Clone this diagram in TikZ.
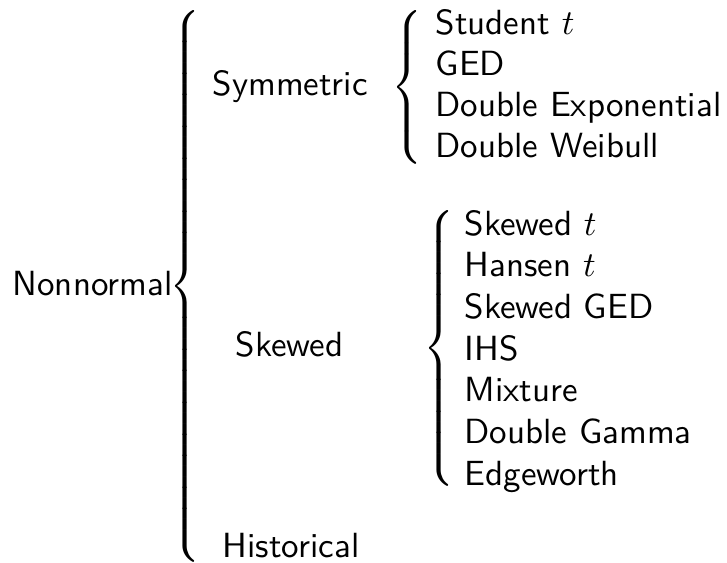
\documentclass[tikz,border=0pt]{standalone}
\usepackage{graphicx}
\begin{document}
\begin{tikzpicture}[x=0.286pt,y=-0.286pt,
  lbl/.style={anchor=base west,inner sep=0pt,font=\sffamily},
  brc/.style={inner sep=0pt,anchor=center}]
\useasboundingbox (0,0) rectangle (727,562);
\newcommand{\mybrace}[2]{\scalebox{1}[#2]{$\left\{\vcenter{\hbox{\vrule height #1 width 0pt}}\right.$}}
\node[lbl] (nn) at (12,295) {Nonnormal};
\node[brc] (b0) at (187,286) {\mybrace{158pt}{1.012}};
\node[lbl] (sym) at (212,95) {Symmetric};
\node[brc] (b1) at (409,87.5) {\mybrace{43pt}{1.043}};
\node[lbl] (s1) at (435,34) {Student $t$};
\node[lbl] (s2) at (435,75) {GED};
\node[lbl] (s3) at (435,116) {Double Exponential};
\node[lbl] (s4) at (435,157) {Double Weibull};
\node[lbl] (skw) at (235,356) {Skewed};
\node[brc] (b2) at (441,348) {\mybrace{80pt}{1.012}};
\node[lbl] (k1) at (464,235) {Skewed $t$};
\node[lbl] (k2) at (464,276.7) {Hansen $t$};
\node[lbl] (k3) at (464,318.3) {Skewed GED};
\node[lbl] (k4) at (464,360) {IHS};
\node[lbl] (k5) at (464,401.7) {Mixture};
\node[lbl] (k6) at (464,443.3) {Double Gamma};
\node[lbl] (k7) at (464,485) {Edgeworth};
\node[lbl] (his) at (222,557) {Historical};
\end{tikzpicture}
\end{document}
